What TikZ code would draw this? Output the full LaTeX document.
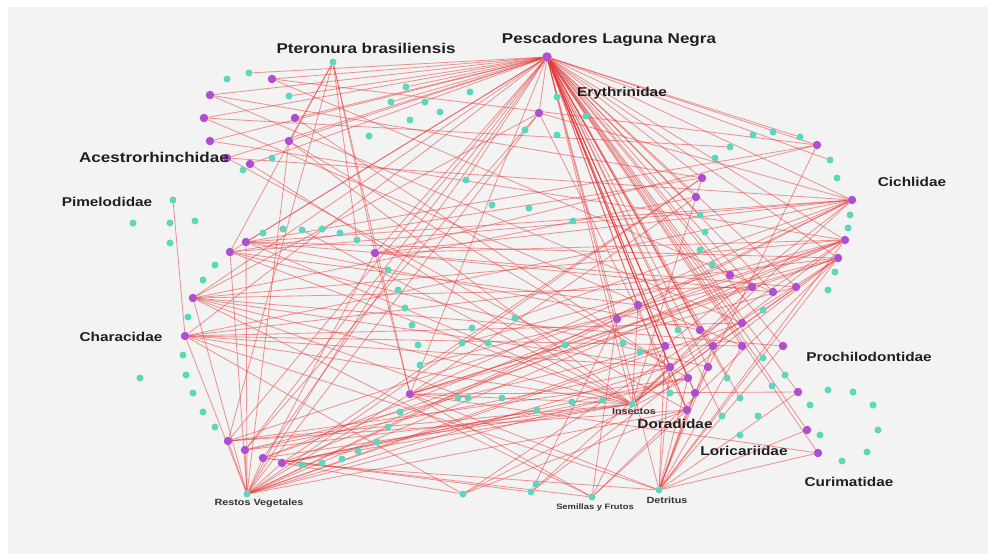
\documentclass[tikz,border=0pt]{standalone}
\usepackage{fontspec}
\newfontfamily\labfont[FakeStretch=1.2]{Liberation Sans}
\usetikzlibrary{backgrounds}
\definecolor{purp}{RGB}{176,78,210}
\definecolor{teal2}{RGB}{92,214,188}
\definecolor{edgered}{RGB}{228,55,55}
\definecolor{bggray}{RGB}{243,243,243}
\begin{document}
\begin{tikzpicture}[x=1pt,y=-1pt,
  pu/.style={circle,fill=purp,inner sep=0pt,minimum size=8.5pt},
  te/.style={circle,fill=teal2,inner sep=0pt,minimum size=7pt},
  edge/.style={draw=edgered,line width=0.85pt,opacity=0.5},
  biglab/.style={font=\labfont\bfseries\fontsize{14.2}{15}\selectfont,text=black!88,inner sep=0pt},
  famlab/.style={font=\labfont\bfseries\fontsize{12.8}{14}\selectfont,text=black!88,inner sep=0pt},
  smlab/.style={font=\labfont\bfseries\fontsize{9}{10}\selectfont,text=black!80,inner sep=0pt}]
\useasboundingbox (0,0) rectangle (988,554);
% purple nodes
\node[pu,minimum size=9.5pt] (p0) at (547,57) {};
\foreach \n/\x/\y in {a1/272/79,a2/210/95,a3/204/118,a4/295/118,a5/210/141,a6/289/141,a7/227/158,a8/250/164,
  e1/539/113,c1/702/178,c2/696/197,c3/817/145,c4/852/200,c5/845/240,c6/838/258,c7/730/275,
  h1/246/242,h2/230/252,h3/375/253,h4/193/298,h5/185/336,
  b1/228/441,b2/245/450,b3/263/458,b4/282/463,b5/410/394,
  r1/638/305,r2/617/319,r3/752/287,r4/773/292,r5/796/287,r6/742/323,r7/700/330,r8/713/346,r9/742/346,
  r10/783/346,r11/665/346,r12/670/367,r13/708/367,r14/688/378,r15/695/393,r16/687/410,r17/798/392,
  r18/807/430,r19/818/453}
  \node[pu] (\n) at (\x,\y) {};
% teal nodes
\foreach \n/\x/\y in {T/333/62,t1/249/73,t2/227/79,t3/289/96,t4/272/158,t5/243/170,
  t6/406/87,t7/391/102,t8/425/102,t9/410/120,t10/369/136,t11/440/112,t12/470/92,
  t13/557/97,t14/586/116,t15/557/135,t16/525/130,
  t17/753/135,t18/773/132,t19/800/137,t20/730/147,t21/715/158,t22/830/160,t23/837/178,
  t24/700/215,t25/705/232,t26/700/250,t27/712/265,t28/850/215,t29/848/228,t30/835/272,t31/828/290,
  t32/466/180,t33/529/208,t34/573/221,t35/492/205,
  t36/173/200,t37/133/223,t38/170/223,t39/195/221,t40/170/243,
  t41/263/233,t42/283/229,t43/302/230,t44/322/229,t45/340/233,t46/357/240,
  t47/215/265,t48/203/280,t49/188/317,t50/183/355,t51/186/375,t52/140/378,t53/193/393,t54/203/412,t55/215/427,
  t56/388/270,t57/398/290,t58/405/308,t59/412/325,t60/418/345,t61/420/365,
  t62/400/412,t63/388/427,t64/377/442,t65/358/451,t66/342/459,t67/322/463,t68/302/465,
  t69/458/398,t70/468/398,t71/502/398,t72/537/410,t73/572/402,t74/603/400,t75/515/318,t76/472/328,
  t77/462/343,t78/488/343,t79/565/345,
  t80/623/343,t81/640/352,t82/678/330,t83/763/310,t84/763/358,t85/727/378,t86/772/386,t87/785/375,
  t88/828/390,t89/853/392,t90/740/398,t91/810/405,t92/873/405,t93/722/416,t94/758/416,t95/740/435,
  t96/878/430,t97/820/435,t98/842/461,t99/867/452,t100/670/393,
  RV/247/494,PE/463/494,AL/531/492,AL2/536/484,SF/592/497,DT/659/490,IN/632/404}
  \node[te] (\n) at (\x,\y) {};
% edges
\begin{pgfonlayer}{background}
\fill[white] (0,0) rectangle (988,554);
\fill[bggray] (8,7) rectangle (988,554);
\foreach \b in {a1,a2,a3,a4,a5,a6,a7,a8,t1,t3,h1,h2,h3,h4,h5,b1,b2,b3,b5,e1,t13,t14,c1,c2,c3,c4,c5,c6,c7,
  t22,t19,r1,r2,r3,r4,r5,r6,r7,r8,r9,r10,r11,r12,r13,r14,r15,r16,r17,r18,r19,IN,t7,t6,t32,t24,
  t82,t85,t90,t93,t84,t100,DT,r16,r14,r12,r15,r11}
  \draw[edge] (p0) -- (\b);
\foreach \b in {a6,h2,h3,b1,b5,t46}
  \draw[edge] (T) -- (\b);
\foreach \b in {h1,h2,h4,h5,b1,b2,b3,b4,b5,a6,h3,r2,r1,r11,r16,r6,c1,r14,t56,e1,r12,c5}
  \draw[edge] (RV) -- (\b);
\foreach \b in {r16,r15,r14,r12,r9,r10,r17,r18,r19,r13,b5,h5,b4,r8,c5,c6,r11}
  \draw[edge] (DT) -- (\b);
\foreach \b in {b5,r2,r11,b3,h4,r16,c6}
  \draw[edge] (SF) -- (\b);
\foreach \b in {h5,h4,h1,h2,b5,b1,b2,b4,c4,c5,c6,c1,r1,a8,a6,r3,r5,t43}
  \draw[edge] (IN) -- (\b);
\foreach \b in {b4,r16,r14,h5,c5}
  \draw[edge] (PE) -- (\b);
\foreach \b in {r12,b3,r2,c6}
  \draw[edge] (AL) -- (\b);
\foreach \a/\b in {c4/h1,c4/h2,c4/h3,c4/h5,c4/b5,c4/r2,c4/r1,c4/t75,c4/r11,c4/a7,c4/e1,
  c5/h4,c5/b1,c5/b4,c5/r2,c5/t77,c5/h3,c6/h5,c6/b3,c6/b5,c6/t61,c6/r12,
  a1/r4,a2/c1,a3/r9,a4/r12,a5/c5,a6/r14,a7/r16,a1/c3,a2/r6,a3/t20,
  h5/r6,h5/r9,h5/r12,h4/r12,h4/r10,h4/r3,h1/r5,h1/c6,h1/r7,h2/r1,h2/r13,h3/r4,h3/c3,h3/b5,
  b5/r3,b5/r5,b5/r17,b5/r19,b1/r16,b1/r14,b2/r12,b2/r11,b3/r2,b3/IN,b4/r14,b4/t74,
  e1/r16,e1/b2,e1/h4,c1/h2,c1/b4,c2/h4,c2/b5,c3/r16,c3/h1,h5/t36,h4/t70,b4/t72}
  \draw[edge] (\a) -- (\b);
\end{pgfonlayer}
% labels
\node[biglab] (lpesc) at (609,40) {Pescadores Laguna Negra};
\node[biglab] (lpter) at (366,48) {Pteronura brasiliensis};
\node[biglab] (lacest) at (154,157) {Acestrorhinchidae};
\node[famlab] (leryth) at (622,93) {Erythrinidae};
\node[famlab] (lcichl) at (912,182) {Cichlidae};
\node[famlab] (lpimel) at (107,202) {Pimelodidae};
\node[famlab] (lchar) at (121,337) {Characidae};
\node[famlab] (lproch) at (869,357) {Prochilodontidae};
\node[famlab] (ldorad) at (675,424) {Doradidae};
\node[famlab] (lloric) at (744,451) {Loricariidae};
\node[famlab] (lcurim) at (849,482) {Curimatidae};
\node[smlab] (lins) at (634,411) {Insectos};
\node[smlab] (lrest) at (259,503) {Restos Vegetales};
\node[smlab,font=\labfont\bfseries\fontsize{7.8}{9}\selectfont] (lsem) at (595,507) {Semillas y Frutos};
\node[smlab] (ldet) at (667,500) {Detritus};
\end{tikzpicture}
\end{document}
